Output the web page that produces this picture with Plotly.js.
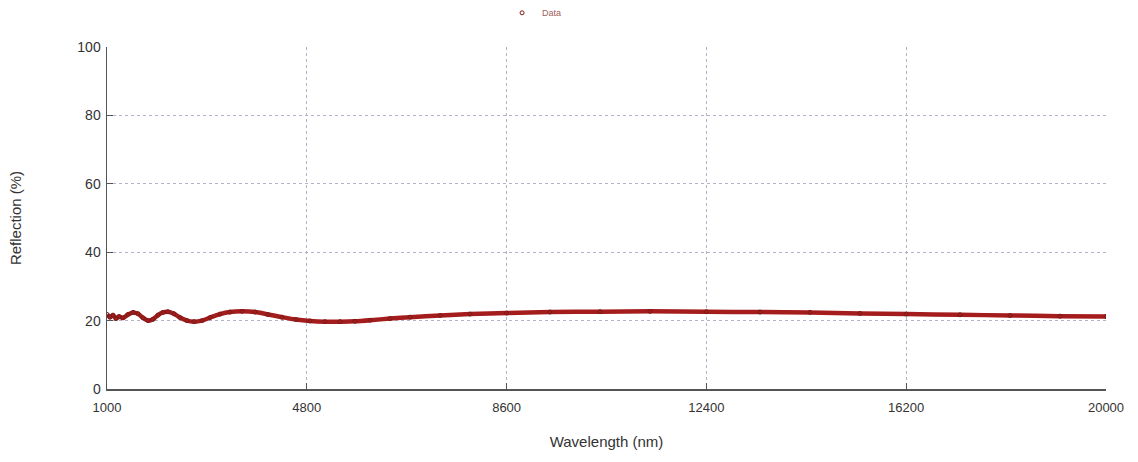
<!DOCTYPE html>
<html>
<head>
<meta charset="utf-8">
<script src="https://cdn.plot.ly/plotly-3.0.1.min.js"></script>
<style>html,body{margin:0;padding:0;background:#fff;}#chart{width:1138px;height:462px;}</style>
</head>
<body>
<div id="chart"></div>
<script>
// Wavelength (nm) and reflection (%)
const wavelength = [1000, 1057, 1114, 1171, 1228, 1304, 1400, 1495, 1590, 1685, 1780, 1875, 1970, 2065, 2160, 2274, 2388, 2522, 2655, 2807, 2960, 3150, 3340, 3568, 3815, 4062, 4329, 4595, 4861, 5146, 5432, 5717, 6002, 6383, 6763, 7334, 7904, 8600, 9426, 10377, 11328, 12400, 13420, 14370, 15320, 16200, 17224, 18175, 19126, 20000];
const reflection = [21.8, 21.0, 21.6, 20.6, 21.2, 20.8, 21.8, 22.4, 22.0, 20.8, 20.0, 20.4, 21.6, 22.4, 22.6, 22.0, 20.9, 20.0, 19.7, 20.0, 20.9, 21.9, 22.5, 22.7, 22.5, 21.8, 21.0, 20.3, 19.9, 19.7, 19.7, 19.8, 20.1, 20.6, 21.0, 21.5, 21.9, 22.2, 22.5, 22.6, 22.7, 22.6, 22.5, 22.4, 22.1, 21.9, 21.7, 21.5, 21.3, 21.2];
const xTicks = [1000, 4800, 8600, 12400, 16200, 20000];
const yTicks = [0, 20, 40, 60, 80, 100];

const traces = [
  {
    x: wavelength, y: reflection, type: 'scatter', mode: 'lines',
    line: {color: '#a41c1c', width: 4.5, shape: 'spline', smoothing: 0.8},
    showlegend: false, hoverinfo: 'skip'
  },
  {
    x: wavelength, y: reflection, type: 'scatter', mode: 'markers', name: 'Data',
    marker: {symbol: 'circle-open', size: 4, color: '#7a1a1a', line: {width: 1, color: '#7a1a1a'}}
  }
];

const gridColor = '#b3b3c8';
const layout = {
  width: 1138, height: 462,
  margin: {l: 107, r: 32, t: 47, b: 73, autoexpand: false},
  paper_bgcolor: '#fff', plot_bgcolor: '#fff',
  font: {family: 'Liberation Sans, Arial, sans-serif', color: '#333'},
  showlegend: true,
  legend: {orientation: 'h', x: 0.428, xanchor: 'center', y: 1.1, yanchor: 'middle',
           font: {size: 9, color: '#a06060'}, bgcolor: 'rgba(0,0,0,0)', itemwidth: 30},
  xaxis: {
    range: [1000, 20000], tickvals: xTicks, ticktext: xTicks.map(String),
    ticks: 'inside', ticklen: 6, tickcolor: '#555',
    showline: true, linecolor: '#555', linewidth: 1.5,
    showgrid: true, gridcolor: gridColor, griddash: 'dot', gridwidth: 1,
    zeroline: false, tickfont: {size: 13, color: '#333'}, ticklabelstandoff: 6,
    title: {text: 'Wavelength (nm)', font: {size: 15, color: '#333'}, standoff: 22}
  },
  yaxis: {
    range: [0, 100], tickvals: yTicks,
    ticks: 'inside', ticklen: 6, tickcolor: '#555',
    showline: true, linecolor: '#555', linewidth: 1.5,
    showgrid: true, gridcolor: gridColor, griddash: 'dot', gridwidth: 1,
    zeroline: false, tickfont: {size: 14, color: '#333'}, ticklabelstandoff: 2,
    title: {text: 'Reflection (%)', font: {size: 15, color: '#333'}, standoff: 52}
  }
};
Plotly.newPlot('chart', traces, layout, {displayModeBar: false, staticPlot: true});
</script>
</body>
</html>
